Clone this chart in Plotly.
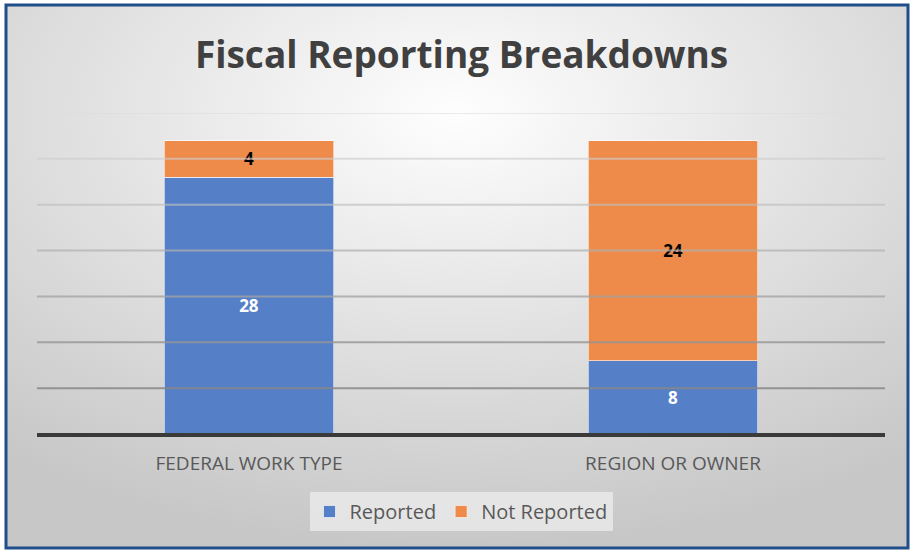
import base64
import plotly.graph_objects as go

categories = ["FEDERAL WORK TYPE", "REGION OR OWNER"]
reported = [28, 8]
not_reported = [4, 24]
grid_values = [5, 10, 15, 20, 25, 30, 35]

W, H = 914, 552
ML, MR, MT, MB = 37, 29, 113, 118
PW, PH = W - ML - MR, H - MT - MB


def px(xp):
    return (xp - ML) / PW


def py(yp):
    return (H - MB - yp) / PH


svg = f'''<svg xmlns="http://www.w3.org/2000/svg" width="{W}" height="{H}" viewBox="0 0 {W} {H}" preserveAspectRatio="none">
<defs><radialGradient id="g" cx="0.5" cy="0.2" r="0.8" gradientUnits="objectBoundingBox">
<stop offset="0" stop-color="#fefefe"/><stop offset="0.5" stop-color="#e2e2e2"/><stop offset="1" stop-color="#c7c7c7"/>
</radialGradient></defs>
<rect width="{W}" height="{H}" fill="url(#g)"/></svg>'''
bg_uri = "data:image/svg+xml;base64," + base64.b64encode(svg.encode()).decode()

fig = go.Figure()
fig.add_trace(go.Bar(
    x=categories, y=reported, name="Reported",
    marker=dict(color="#5580C8", line=dict(color="rgba(255,255,255,0.6)", width=1)),
    text=[str(v) for v in reported], textposition="inside", insidetextanchor="middle",
    textfont=dict(color="white", size=17, family="Open Sans", weight="bold"),
    width=0.4,
))
fig.add_trace(go.Bar(
    x=categories, y=not_reported, name="Not Reported",
    marker=dict(color="#EE8A4A", line=dict(color="rgba(255,255,255,0.6)", width=1)),
    text=[str(v) for v in not_reported], textposition="inside", insidetextanchor="middle",
    textfont=dict(color="black", size=17, family="Open Sans", weight="bold"),
    width=0.4,
))

shapes = []
for v in grid_values:
    frac = (v - 5) / 30.0
    c = int(135 + frac * 85)
    shapes.append(dict(type="line", xref="paper", yref="y", x0=0, x1=1, y0=v, y1=v,
                       line=dict(color=f"rgba({c},{c},{c},{0.85 - frac*0.25})", width=2), layer="above"))
shapes.append(dict(type="line", xref="paper", yref="paper", x0=0, x1=1, y0=py(435), y1=py(435),
                   line=dict(color="#3a3a3a", width=4), layer="above"))
shapes.append(dict(type="rect", xref="paper", yref="paper",
                   x0=px(6), x1=px(W - 6), y0=py(H - 4), y1=py(5),
                   line=dict(color="#1F4F8A", width=3), layer="above"))

fig.update_layout(
    width=W, height=H,
    paper_bgcolor="white", plot_bgcolor="rgba(0,0,0,0)",
    margin=dict(l=ML, r=MR, t=MT, b=MB),
    barmode="stack", bargap=0.6,
    title=dict(text="Fiscal Reporting Breakdowns", x=0.505, xanchor="center", y=1 - 55 / H, yanchor="middle",
               font=dict(family="Open Sans", size=37, color="#404040", weight="bold")),
    xaxis=dict(showgrid=False, showline=False, ticks="outside", ticklen=12, tickcolor="rgba(0,0,0,0)",
               tickfont=dict(family="Open Sans", size=19, color="#595959"), fixedrange=True),
    yaxis=dict(range=[0, 35], showgrid=False, showticklabels=False, zeroline=False, showline=False, fixedrange=True),
    legend=dict(orientation="h", x=0.5, xanchor="center", y=py(492), yanchor="top",
                bgcolor="rgba(240,240,240,0.7)", font=dict(family="Open Sans", size=20, color="#595959"),
                itemwidth=30, traceorder="normal"),
    shapes=shapes,
    images=[dict(source=bg_uri, xref="paper", yref="paper", x=px(6), y=py(5),
                 sizex=(W - 12) / PW, sizey=(H - 9) / PH, sizing="stretch", xanchor="left", yanchor="top",
                 layer="below")],
    showlegend=True,
)

fig.write_html("out.html")
